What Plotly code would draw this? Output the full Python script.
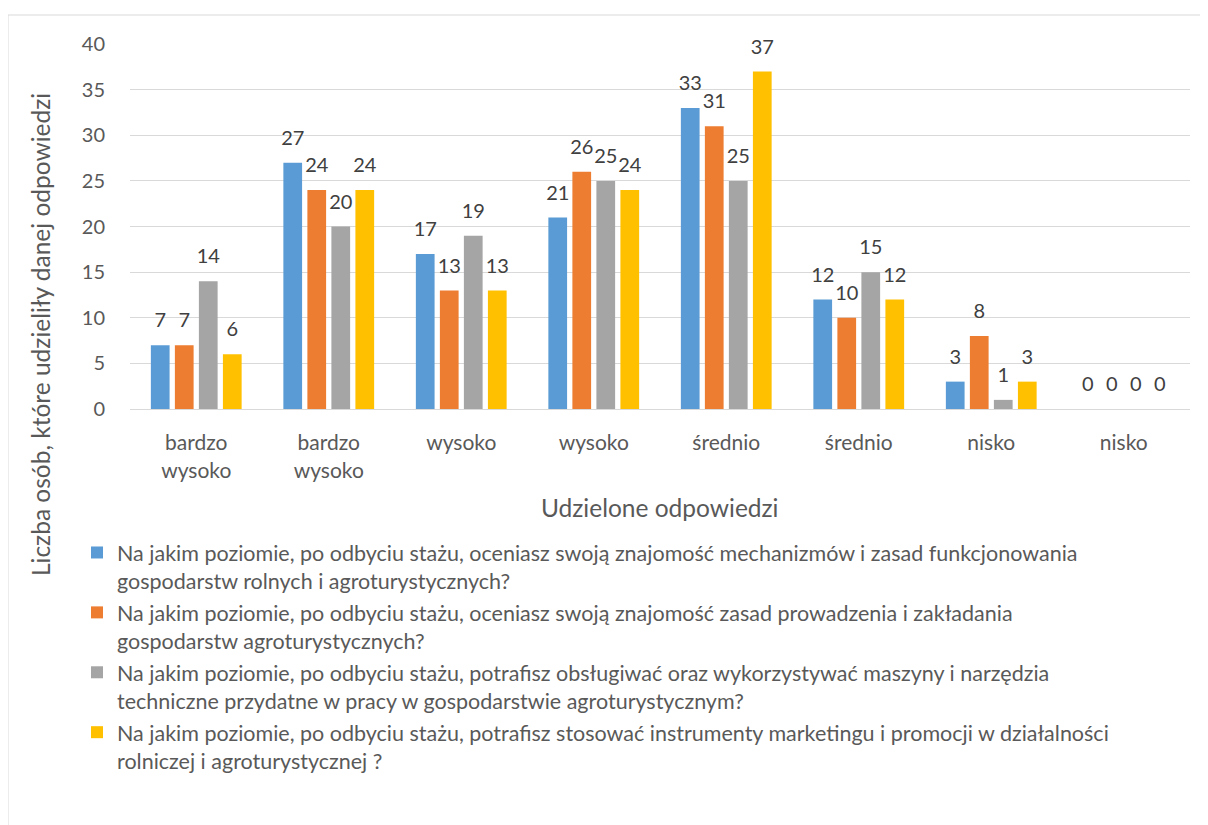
import plotly.graph_objects as go

categories = ["bardzo<br>wysoko", "bardzo<br>wysoko", "wysoko", "wysoko",
              "średnio", "średnio", "nisko", "nisko"]
series_names = [
    "Na jakim poziomie, po odbyciu stażu, oceniasz swoją znajomość mechanizmów i zasad funkcjonowania<br>gospodarstw rolnych i agroturystycznych?",
    "Na jakim poziomie, po odbyciu stażu, oceniasz swoją znajomość zasad prowadzenia i zakładania<br>gospodarstw agroturystycznych?",
    "Na jakim poziomie, po odbyciu stażu, potrafisz obsługiwać oraz wykorzystywać maszyny i narzędzia<br>techniczne przydatne w pracy w gospodarstwie agroturystycznym?",
    "Na jakim poziomie, po odbyciu stażu, potrafisz stosować instrumenty marketingu i promocji w działalności<br>rolniczej i agroturystycznej ?",
]
s1 = [7, 27, 17, 21, 33, 12, 3, 0]
s2 = [7, 24, 13, 26, 31, 10, 8, 0]
s3 = [14, 20, 19, 25, 25, 15, 1, 0]
s4 = [6, 24, 13, 24, 37, 12, 3, 0]
series_values = [s1, s2, s3, s4]
colors = ["#5B9BD5", "#ED7D31", "#A5A5A5", "#FFC000"]
y_ticks = [0, 5, 10, 15, 20, 25, 30, 35, 40]

FONT = "Lato"
x_pos = list(range(len(categories)))

fig = go.Figure()
for i, (name, vals, col) in enumerate(zip(series_names, series_values, colors)):
    fig.add_trace(go.Bar(
        x=x_pos, y=vals, name=name, legendgroup=f"g{i}",
        marker=dict(color=col, line=dict(width=0)),
        hoverinfo="y",
    ))
# data labels, grouped the same way as the bars
for i, vals in enumerate(series_values):
    fig.add_trace(go.Scatter(
        x=x_pos, y=vals, mode="markers+text",
        text=[str(v) for v in vals], textposition="top center",
        textfont=dict(family=FONT, size=20, color="#404040"),
        marker=dict(size=19, opacity=0),
        showlegend=False, hoverinfo="skip", cliponaxis=False,
    ))

W, H = 1200, 817
L, T, PW, PH = 122, 36, 1060, 365

fig.update_layout(
    width=W, height=H,
    margin=dict(l=L, r=W - L - PW, t=T, b=H - T - PH),
    paper_bgcolor="white", plot_bgcolor="white",
    barmode="group", bargap=0.275, bargroupgap=0.22,
    scattermode="group", scattergap=0.275,
    font=dict(family=FONT, color="#595959", size=20),
    showlegend=True,
    legend=dict(
        x=-0.05, y=-0.337, xanchor="left", yanchor="top",
        orientation="v", valign="top",
        font=dict(family=FONT, size=21.5, color="#595959"),
        tracegroupgap=1, bgcolor="rgba(0,0,0,0)",
    ),
    xaxis=dict(
        range=[-0.5, len(categories) - 0.5],
        tickmode="array", tickvals=x_pos, ticktext=categories,
        showgrid=False, zeroline=False, showline=False,
        ticks="outside", ticklen=15, tickcolor="rgba(0,0,0,0)",
        tickfont=dict(family=FONT, size=21, color="#595959"),
    ),
    yaxis=dict(
        range=[0, 40], tickmode="array", tickvals=y_ticks,
        showgrid=True, gridcolor="#D9D9D9", gridwidth=1,
        zeroline=True, zerolinecolor="#D9D9D9", zerolinewidth=1,
        showline=False,
        ticks="outside", ticklen=20, tickcolor="rgba(0,0,0,0)",
        tickfont=dict(family=FONT, size=20, color="#595959"),
    ),
    annotations=[
        dict(text="Udzielone odpowiedzi", xref="paper", yref="paper",
             x=0.5, y=-0.271, xanchor="center", yanchor="middle",
             showarrow=False, font=dict(family=FONT, size=24.5, color="#595959")),
        dict(text="Liczba osób, które udzieliły danej odpowiedzi", xref="paper", yref="paper",
             x=-0.085, y=0.205, xanchor="center", yanchor="middle", textangle=-90,
             showarrow=False, font=dict(family=FONT, size=24.5, color="#595959")),
    ],
    shapes=[
        dict(type="rect", xref="paper", yref="paper",
             x0=(0 - L) / PW, x1=(W - 1 - L) / PW,
             y0=(T + PH - (H + 20)) / PH, y1=(T + PH - 7) / PH,
             line=dict(color="#D9D9D9", width=1), fillcolor="rgba(0,0,0,0)", layer="below"),
    ],
)

fig.write_html("out.html")
